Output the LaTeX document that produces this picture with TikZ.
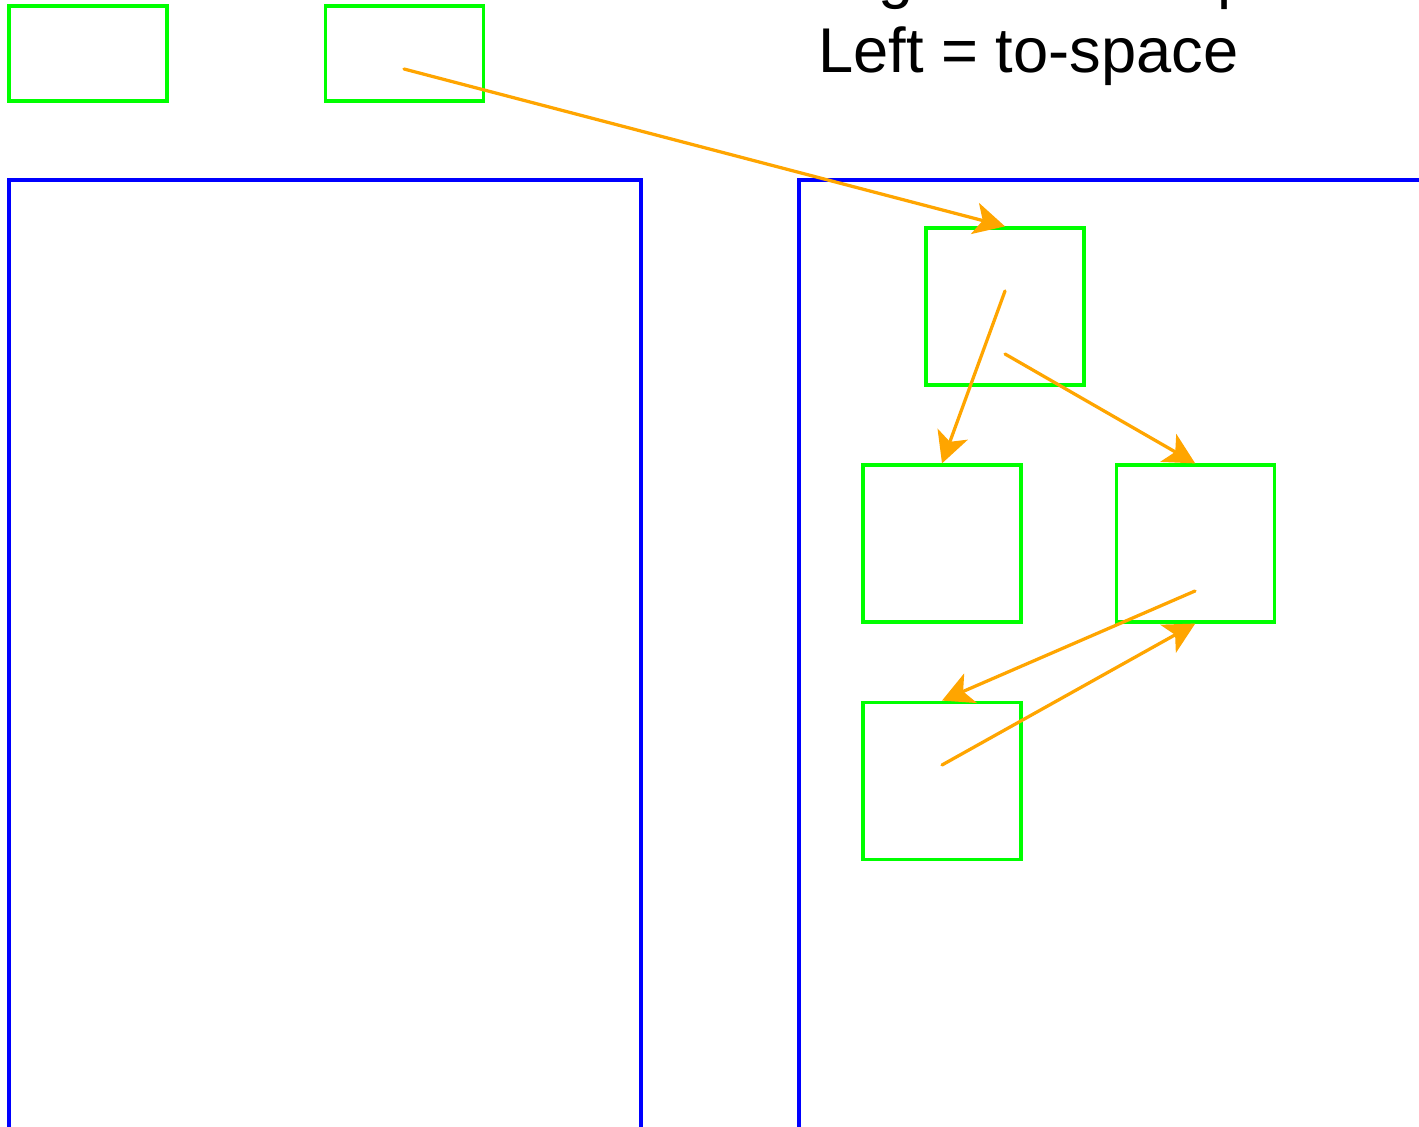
\documentclass[tikz,border=0pt]{standalone}
\usepackage{fontspec}
\setmainfont{Liberation Sans}
\usepackage{xcolor}
\usepackage{tikz}
\usetikzlibrary{positioning,arrows.meta}

\definecolor{ptrorange}{RGB}{255,165,0}
\tikzset{
  obj/.style={rectangle, draw=green, line width=0.065cm, inner sep=0pt, minimum width=3.16cm, minimum height=3.14cm},
  root/.style={obj, minimum height=1.9cm},
  space/.style={draw=blue, line width=0.065cm},
  ptr/.style={draw=ptrorange, line width=0.065cm, line cap=round, -{Stealth[length=0.62cm, width=0.64cm, inset=0.16cm]}},
  lbl/.style={inner sep=0pt, font=\fontsize{36pt}{43pt}\selectfont}
}

\begin{document}
\begin{tikzpicture}[x=0.02cm, y=0.02cm, node distance=1.54cm]
    \useasboundingbox (0,0) rectangle (1419,1126);

    % semispaces
    \draw[space] (9,-10) -- (9,946) -- (641,946) -- (641,-10);
    \draw[space] (799,-10) -- (799,946) -- (1430,946);

    % labels
    \node[lbl, anchor=base west] (fromlbl) at (818,1129) {Right = from-space};
    \node[lbl, anchor=base west] (tolbl) at (818,1053) {Left = to-space};

    % roots
    \node[root] (r1) at (88,1072.5) {};
    \node[root, right=3.1cm of r1] (r2) {};

    % copied objects
    \node[obj] (a) at (1005,819.5) {};
    \node[obj] (b) at (942,582.5) {};
    \node[obj, right=1.84cm of b] (c) {};
    \node[obj, below=of b] (d) {};

    % fields
    \coordinate (r2f) at (404,1057);
    \coordinate (af1) at (1005,835);
    \coordinate (af2) at (1005,772);
    \coordinate (cf) at (1195,535);
    \coordinate (df) at (942,361);

    % pointers
    \draw[ptr] (r2f) -- (a.north);
    \draw[ptr] (af1) -- (b.north);
    \draw[ptr] (af2) -- (c.north);
    \draw[ptr] (cf) -- (d.north);
    \draw[ptr] (df) -- (c.south);
\end{tikzpicture}
\end{document}
